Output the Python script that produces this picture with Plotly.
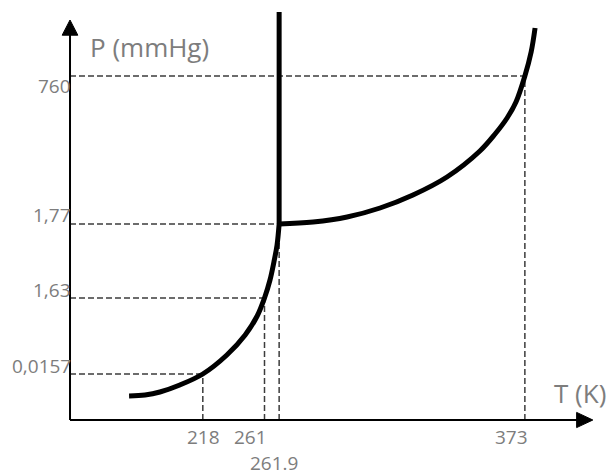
import plotly.graph_objects as go

# Schematic phase diagram of water (axes are not to scale).
# Horizontal axis: schematic temperature position, vertical axis: schematic pressure position.

# Labelled points of the diagram, in schematic axis units
T_LABELS = ["218", "261", "261.9", "373"]
P_LABELS = ["0,0157", "1,63", "1,77", "760"]
T_POS = [25.4, 37.2, 40.0, 87.0]
P_POS = [11.5, 30.5, 49.0, 86.0]

# Solid-gas (sublimation) curve, ending at the triple point
SUBLIMATION_T = [11.3, 14.35, 17.2, 21.0, 25.4, 30.0, 33.5, 35.8, 37.2, 38.25, 39.0, 39.6, 40.0]
SUBLIMATION_P = [6.0, 6.25, 7.0, 8.75, 11.5, 16.25, 21.25, 26.0, 30.5, 35.0, 39.5, 43.75, 49.0]

# Liquid-gas (vaporisation) curve, starting at the triple point
VAPOR_T = [40.0, 46.5, 53.0, 59.3, 65.6, 72.1, 78.4, 81.3, 83.6, 85.3, 87.0, 88.2, 88.95]
VAPOR_P = [49.0, 49.5, 50.75, 53.0, 56.25, 60.75, 67.25, 71.5, 75.5, 79.5, 86.0, 92.0, 98.0]

# Solid-liquid (fusion) line, drawn vertical in this schematic
FUSION_T = [40.0, 40.0]
FUSION_P = [49.0, 102.0]

AXIS_END = 100.0
TEXT_COLOR = "#7d7d7d"
FONT = "Open Sans"

fig = go.Figure()

curve_style = dict(color="black", width=5)
fig.add_trace(go.Scatter(x=SUBLIMATION_T, y=SUBLIMATION_P, mode="lines",
                         line=dict(shape="spline", smoothing=1.0, **curve_style),
                         hoverinfo="skip"))
fig.add_trace(go.Scatter(x=VAPOR_T, y=VAPOR_P, mode="lines",
                         line=dict(shape="spline", smoothing=1.0, **curve_style),
                         hoverinfo="skip"))
fig.add_trace(go.Scatter(x=FUSION_T, y=FUSION_P, mode="lines",
                         line=curve_style, hoverinfo="skip"))

shapes = []
guide = dict(color="#3c3c3c", width=1.5, dash="6px,3px")
for t, p in zip(T_POS, P_POS):
    # dashed guides from the axes to each labelled point
    shapes.append(dict(type="line", x0=0, y0=p, x1=t, y1=p, line=guide, layer="below"))
    shapes.append(dict(type="line", x0=t, y0=0, x1=t, y1=p, line=guide, layer="below"))

# Axes with arrowheads
axis_line = dict(color="black", width=2)
shapes.append(dict(type="line", x0=0, y0=0, x1=97.0, y1=0, line=axis_line))
shapes.append(dict(type="line", x0=0, y0=0, x1=0, y1=96.3, line=axis_line))
shapes.append(dict(type="path",
                   path=f"M 96.9 -1.9 L {AXIS_END} 0 L 96.9 1.9 Z",
                   fillcolor="black", line=dict(color="black", width=1)))
shapes.append(dict(type="path",
                   path=f"M -1.5 96.2 L 0 {AXIS_END} L 1.5 96.2 Z",
                   fillcolor="black", line=dict(color="black", width=1)))

annotations = []
tick_font = dict(family=FONT, size=19, color=TEXT_COLOR)
label_box = dict(borderpad=0, borderwidth=0)

# Pressure labels to the left of the vertical axis
P_LABEL_YSHIFT = [8, 8, 9, -10]
for label, p, dy in zip(P_LABELS, P_POS, P_LABEL_YSHIFT):
    annotations.append(dict(x=0, y=p, xref="x", yref="y", text=label,
                            showarrow=False, xanchor="right", yanchor="middle",
                            xshift=1, yshift=dy, font=tick_font, **label_box))

# Temperature labels under the horizontal axis
T_LABEL_STYLE = [("center", 1, -17), ("right", 2, -17),
                 ("center", -5, -43), ("right", 3, -17)]
for label, t, (anchor, dx, dy) in zip(T_LABELS, T_POS, T_LABEL_STYLE):
    annotations.append(dict(x=t, y=0, xref="x", yref="y", text=label,
                            showarrow=False, xanchor=anchor, yanchor="middle",
                            xshift=dx, yshift=dy, font=tick_font, **label_box))

title_font = dict(family=FONT, size=26, color=TEXT_COLOR)
annotations.append(dict(x=0, y=AXIS_END, xref="x", yref="y", text="P (mmHg)",
                        showarrow=False, xanchor="left", yanchor="middle",
                        xshift=18, yshift=-27, font=title_font))
annotations.append(dict(x=AXIS_END, y=0, xref="x", yref="y", text="T (K)",
                        showarrow=False, xanchor="right", yanchor="middle",
                        xshift=15, yshift=27, font=title_font))

fig.update_layout(
    width=608, height=476,
    margin=dict(l=0, r=0, t=0, b=0),
    paper_bgcolor="white", plot_bgcolor="white",
    showlegend=False,
    xaxis=dict(range=[-13.39, 102.9], visible=False, fixedrange=True),
    yaxis=dict(range=[-14, 105], visible=False, fixedrange=True),
    shapes=shapes, annotations=annotations,
)

fig.write_html("out.html", config={"displayModeBar": False})
